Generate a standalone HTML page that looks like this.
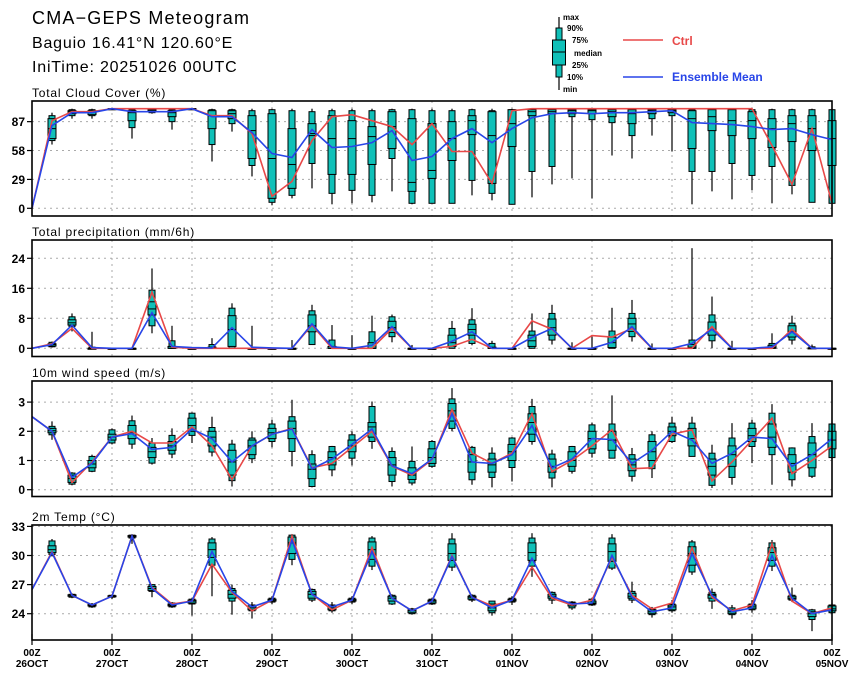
<!DOCTYPE html>
<html><head><meta charset="utf-8"><style>
body{margin:0;background:#fff;}
svg{display:block;font-family:"Liberation Sans",Arial,sans-serif;}
</style></head><body>
<svg id="chart" width="860" height="678" viewBox="0 0 860 678">
<text x="32" y="24" font-size="18" letter-spacing="1.2">CMA−GEPS Meteogram</text>
<text x="32" y="48" font-size="16" letter-spacing="0.8">Baguio 16.41°N 120.60°E</text>
<text x="32" y="72" font-size="16" letter-spacing="0.8">IniTime: 20251026 00UTC</text>
<g font-size="8" font-weight="bold">
<line x1="559" y1="17" x2="559" y2="90" stroke="#000" stroke-width="1.2"/>
<rect x="556" y="28" width="6" height="49" fill="#10c0b8" stroke="#000"/>
<rect x="552.5" y="40" width="13" height="25" fill="#10c0b8" stroke="#000"/>
<line x1="552.5" y1="52" x2="565.5" y2="52" stroke="#000"/>
<text x="563" y="20">max</text><text x="567" y="31">90%</text><text x="572" y="43">75%</text>
<text x="574" y="56">median</text><text x="572" y="68">25%</text><text x="567" y="80">10%</text><text x="563" y="92">min</text>
<line x1="623" y1="40" x2="663" y2="40" stroke="#e84848" stroke-width="1.5"/>
<text x="672" y="45" font-size="12" font-weight="bold" fill="#e84848">Ctrl</text>
<line x1="623" y1="77" x2="663" y2="77" stroke="#2845e8" stroke-width="1.5"/>
<text x="672" y="81" font-size="12" font-weight="bold" fill="#2845e8">Ensemble Mean</text>
</g>
</svg>
<script>
// ---- data ----
const dayLabels=["26OCT","27OCT","28OCT","29OCT","30OCT","31OCT","01NOV","02NOV","03NOV","04NOV","05NOV"];
const cloudMin=[0,64,90,90,100,70,95,79,100,47,77,32,3,10,20,4,5,6,17,4,5,5,13,8,4,11,24,30,10,53,50,73,57,4,17,9,18,5,14,6,5];
const cloudP10=[0,68,93,93,100,81,96,87,100,64,85,43,6,13,45,15,18,13,50,5,5,5,28,15,4,37,42,92,89,86,73,90,93,37,37,45,33,42,23,6,5];
const cloudP25=[0,70,95,94,100,88,97,92,100,80,90,50,10,20,73,34,34,44,60,17,30,48,74,25,62,93,95,95,95,92,85,95,96,60,78,73,70,61,67,58,43];
const cloudMed=[0,80,97,97,100,96,98,96,100,93,95,78,50,44,75,70,70,72,82,26,38,70,88,73,85,97,97,98,98,97,95,98,98,90,92,88,88,80,85,80,70];
const cloudP75=[0,90,98,98,100,98,99,98,100,98,98,93,95,80,85,93,88,82,97,90,85,87,93,97,99,99,99,99,99,99,99,99,99,98,99,99,97,90,93,93,88];
const cloudP90=[0,93,99,99,100,99,99,99,100,99,99,98,99,98,97,98,98,98,99,99,98,98,99,98,99,99,99,99,99,99,99,99,99,99,99,99,99,99,99,99,99];
const cloudMax=[0,96,100,100,100,100,100,100,100,100,100,100,100,100,100,100,100,100,100,100,100,100,100,100,100,100,100,100,100,100,100,100,100,100,100,100,100,100,100,100,100];
const cloudCtrl=[0,88,97,97,100,100,100,100,100,93,93,75,12,27,68,92,94,88,82,64,85,57,57,25,98,100,100,100,100,100,100,100,100,100,100,100,100,63,24,80,5];
const cloudMean=[0,83,96,96,100,97,97,97,100,92,92,76,55,51,79,61,62,66,78,48,52,70,80,66,80,91,95,96,95,96,96,97,98,86,85,84,82,79,80,74,69];
const cloudTicks=[0,29,58,87];

const precMin=[0,0.2,4.5,0,0,0,4,0,0,0,0,0,0,0,1,0,0,0,1.6,0,0,0,0.8,0,0,0,1,0,0,0,1.8,0,0,0,0,0,0,0,1,0,0];
const precP10=[0,0.4,5.8,0,0,0,6,0,0,0,0,0,0,0,1,0,0,0,3.1,0,0,0,1.3,0,0,0,2.2,0,0,0,3.1,0,0,0,2,0,0,0,2.2,0,0];
const precP25=[0,0.6,6.2,0,0,0,8.9,0,0,0,0.5,0,0,0,4.4,0,0,0,4.2,0,0,0.5,3.5,0,0,0.5,3.5,0,0,0.2,4.5,0,0,0,3.5,0,0,0,3,0,0];
const precMed=[0,1,6.8,0,0,0,10.5,0,0,0,5,0,0,0,6,0,0,0,5.5,0,0,1.5,5,0,0,2,5.5,0,0,1.5,6.5,0,0,0.3,5,0,0,0.2,4.5,0,0];
const precP75=[0,1.2,7.6,0,0,0,12.4,0.5,0,0.3,8.7,0,0,0,8.9,0.5,0,1.5,7.2,0,0,3.5,6.4,0.3,0,3.5,7.8,0,0,3,8,0,0,1,7,0,0,0.8,6,0.1,0];
const precP90=[0,1.6,8.4,0.3,0,0,15.5,2,0,1,10.7,0,0,0,10,2.2,0,4.4,8.4,0,0,5.3,7.6,1.3,0,4.6,9.3,0,0,4.6,9.3,0,0,2.2,8.9,0,0,1.3,6.7,0.4,0];
const precMax=[0,1.8,9.3,4.4,0,0,21.3,6,0,2.7,12,6,0,2.2,11.6,6.2,3.5,8.7,9,0.9,0,7.3,10.7,2,0,9.3,11.6,1.6,3.1,10.8,12.9,1.3,0,26.7,13.8,2,0,4,8.7,1,0];
const precCtrl=[0,1.2,5.3,0,0,0,15,0.3,0,0,0,0,0,0,6.2,0,0,0,5.3,0,0,0.5,2.4,0,0,7.3,5.1,0,3.4,3,5.3,0,0,0,5.8,0,0,0,5.1,0,0];
const precMean=[0,1,6.2,0.2,0,0,9.5,0.5,0.2,0.1,5.5,0.3,0.1,0,6.5,0.4,0,0.8,5.8,0,0,1.9,4.4,0,0,2.9,5.3,0,0,1.6,5.8,0,0,1.3,5.1,0,0,0.4,4.4,0,0];
const precTicks=[0,8,16,24];

const windMin=[2.5,1.71,0.15,0.6,1.55,1.4,0.86,1.08,1.6,1.14,0.11,0.91,1.45,0.8,0.08,0.46,0.83,1.4,0.11,0.15,0.75,2.0,0.17,0.08,0.28,1.54,0.08,0.55,1.1,1.08,0.28,0.4,1.6,1.14,0.06,0.17,0.91,0.17,0.11,0.4,1.05];
const windP10=[2.5,1.88,0.19,0.63,1.6,1.56,0.91,1.22,1.86,1.29,0.31,1.06,1.65,1.31,0.11,0.68,1.08,1.65,0.28,0.23,0.8,2.1,0.34,0.42,0.76,1.65,0.4,0.63,1.25,1.08,0.46,0.72,1.65,1.14,0.15,0.42,1.48,1.2,0.34,0.46,1.1];
const windP25=[2.5,1.95,0.25,0.75,1.7,1.75,1.1,1.35,2.0,1.5,0.5,1.2,1.75,1.75,0.38,0.85,1.3,1.8,0.5,0.35,0.9,2.35,0.6,0.6,1.0,1.9,0.6,0.8,1.4,1.35,0.65,1.0,1.85,1.5,0.5,0.8,1.65,1.45,0.6,0.75,1.4];
const windMed=[2.5,2.02,0.38,0.88,1.8,1.95,1.3,1.5,2.2,1.8,0.95,1.5,1.95,2.1,0.7,1.1,1.5,2.15,0.85,0.5,1.1,2.7,0.95,0.85,1.3,2.3,0.8,1.0,1.75,1.7,0.85,1.3,2.0,1.75,0.8,1.2,1.85,1.8,0.9,1.2,1.7];
const windP75=[2.5,2.1,0.5,1.0,1.9,2.2,1.45,1.65,2.45,2.0,1.35,1.7,2.1,2.35,0.88,1.3,1.7,2.3,1.1,0.75,1.4,2.95,1.2,1.05,1.55,2.6,1.05,1.3,2.0,2.0,1.05,1.65,2.15,2.1,1.05,1.5,2.1,2.25,1.2,1.6,2.0];
const windP90=[2.5,2.17,0.57,1.14,2.05,2.36,1.6,1.86,2.62,2.13,1.56,1.77,2.25,2.5,1.2,1.48,1.88,2.85,1.31,0.97,1.65,3.11,1.45,1.25,1.77,2.85,1.22,1.48,2.22,2.25,1.2,1.88,2.28,2.28,1.25,1.77,2.28,2.62,1.43,1.82,2.25];
const windMax=[2.5,2.34,0.6,1.2,2.1,2.54,1.77,2.1,2.65,2.5,1.71,2.0,2.4,3.08,1.35,1.5,2.0,3.02,1.45,1.48,1.7,3.48,1.5,1.45,1.8,3.11,1.37,1.5,2.3,3.23,1.43,2.0,2.5,2.5,1.54,2.28,2.4,2.93,1.45,2.28,2.3];
const windCtrl=[2.5,2.0,0.25,0.95,1.8,2.0,1.6,1.6,2.15,1.5,0.35,1.5,1.9,2.1,0.75,0.9,1.45,2.0,0.8,0.5,1.03,2.75,1.25,0.9,1.25,2.6,0.62,1.0,1.5,2.05,0.72,0.75,1.9,2.05,0.3,0.95,1.7,2.45,0.55,1.0,1.5];
const windMean=[2.5,2.0,0.42,0.9,1.8,1.92,1.38,1.45,2.08,1.75,0.95,1.5,1.9,2.08,0.72,1.05,1.55,2.08,0.82,0.55,1.05,2.6,0.95,0.9,1.2,2.2,0.75,1.05,1.75,1.72,0.9,1.35,2.0,1.7,0.9,1.25,1.8,1.75,0.8,1.2,1.75];
const windTicks=[0,1,2,3];

const tempMin=[26.5,29.9,25.6,24.6,25.5,31.2,25.7,24.6,23.8,25.8,23.9,23.5,25.0,29.0,25.2,24.1,25.0,28.5,24.9,23.9,24.9,28.4,25.2,23.8,24.9,27.8,25.0,24.4,24.8,28.5,25.1,23.6,24.1,28.0,24.5,23.5,24.1,28.4,25.2,22.2,24.0];
const tempP10=[26.5,30.1,25.7,24.7,25.7,31.8,26.3,24.7,25.0,29.0,25.3,24.3,25.2,29.6,25.4,24.3,25.2,28.9,25.0,24.0,25.0,28.8,25.4,24.1,25.2,28.9,25.4,24.6,24.9,28.7,25.4,23.9,24.3,28.3,25.3,23.9,24.4,28.9,25.4,23.4,24.1];
const tempP25=[26.5,30.3,25.8,24.8,25.75,31.9,26.4,24.8,25.1,29.8,25.6,24.4,25.3,30.2,25.6,24.4,25.3,29.6,25.3,24.1,25.1,29.5,25.5,24.3,25.3,29.5,25.6,24.8,25.0,29.4,25.6,24.0,24.4,29.0,25.6,24.0,24.5,29.5,25.5,23.7,24.3];
const tempMed=[26.5,30.6,25.9,24.9,25.8,32.0,26.6,24.9,25.3,30.6,26.0,24.6,25.4,31.3,26.0,24.6,25.4,30.6,25.6,24.3,25.3,30.2,25.7,24.6,25.4,30.3,25.8,25.0,25.1,30.4,25.8,24.2,24.7,30.2,25.9,24.2,24.7,30.3,25.6,24.0,24.5];
const tempP75=[26.5,31.0,25.95,24.95,25.85,32.05,26.8,25.0,25.4,31.3,26.4,24.8,25.5,31.9,26.3,24.8,25.5,31.4,25.8,24.4,25.4,31.2,25.8,25.0,25.5,31.3,26.0,25.1,25.3,31.2,26.1,24.4,24.9,30.9,26.0,24.4,24.9,30.8,25.8,24.2,24.8];
const tempP90=[26.5,31.5,26.0,25.0,25.9,32.1,27.0,25.1,25.5,31.7,26.6,24.9,25.6,32.1,26.5,24.9,25.6,31.8,25.9,24.5,25.5,31.7,25.9,25.3,25.6,31.8,26.2,25.2,25.5,31.8,26.3,24.5,25.0,31.4,26.2,24.6,25.0,31.3,25.9,24.4,24.9];
const tempMax=[26.5,31.7,26.1,25.1,26.0,32.2,27.0,25.2,25.6,31.9,27.0,25.2,25.8,32.2,26.6,25.2,25.8,32.0,26.0,24.6,25.6,32.3,26.0,25.3,25.8,32.3,26.3,25.3,25.6,32.2,27.3,24.7,25.4,31.6,26.6,24.9,25.4,31.6,26.7,24.5,25.1];
const tempCtrl=[26.5,30.4,25.9,24.9,25.8,32.0,26.7,25.0,25.3,29.1,26.2,24.3,25.4,32.0,26.0,24.4,25.4,30.8,25.6,24.3,25.3,30.0,25.7,24.8,25.4,28.8,25.6,24.9,25.4,29.8,25.9,24.5,25.1,30.8,25.7,24.3,24.9,31.2,25.3,24.0,24.6];
const tempMean=[26.5,30.3,25.9,24.9,25.8,32.0,26.6,24.9,25.3,30.4,26.3,24.7,25.4,31.6,26.0,24.7,25.4,30.4,25.6,24.3,25.3,29.9,25.7,24.6,25.4,29.7,25.8,25.0,25.1,30.0,25.7,24.2,24.6,30.2,25.9,24.2,24.6,30.0,25.6,24.0,24.4];
const tempTicks=[24,27,30,33];

// ---- drawing ----
const NS="http://www.w3.org/2000/svg";
const svg=document.getElementById('chart');
const X0=32,X1=832,NSTEP=40;
function xs(i){return X0+(X1-X0)*i/NSTEP;}
function mk(tag,attrs,parent){const e=document.createElementNS(NS,tag);for(const k in attrs)e.setAttribute(k,attrs[k]);(parent||svg).appendChild(e);return e;}
const TEAL="#10c0b8",RED="#e84848",BLUE="#2845e8";

const panels=[
 {name:"cloud",title:"Total Cloud Cover (%)",top:101,bot:216,v0:0,y0:208.3,v1:100,y1:108.7,ticks:cloudTicks,
  s:[cloudMin,cloudP10,cloudP25,cloudMed,cloudP75,cloudP90,cloudMax],ctrl:cloudCtrl,mean:cloudMean},
 {name:"precip",title:"Total precipitation (mm/6h)",top:240,bot:356.5,v0:0,y0:348.3,v1:24,y1:258.3,ticks:precTicks,
  s:[precMin,precP10,precP25,precMed,precP75,precP90,precMax],ctrl:precCtrl,mean:precMean},
 {name:"wind",title:"10m wind speed (m/s)",top:381,bot:496.5,v0:0,y0:489.7,v1:3,y1:402.1,ticks:windTicks,
  s:[windMin,windP10,windP25,windMed,windP75,windP90,windMax],ctrl:windCtrl,mean:windMean},
 {name:"temp",title:"2m Temp (°C)",top:525,bot:640,v0:24,y0:613.7,v1:33,y1:526.4,ticks:tempTicks,
  s:[tempMin,tempP10,tempP25,tempMed,tempP75,tempP90,tempMax],ctrl:tempCtrl,mean:tempMean}
];

panels.forEach(p=>{
  const ys=v=>p.y0+(v-p.v0)*(p.y1-p.y0)/(p.v1-p.v0);
  const g=mk('g',{});
  
  
  const t=mk('text',{x:32,y:p.top-4,'font-size':12,'letter-spacing':0.8},g);t.textContent=p.title;
  
  
  for(let d=1;d<10;d++){
    const l=mk('line',{x1:xs(d*4),x2:xs(d*4),y1:p.top,y2:p.bot,stroke:'#aaa','stroke-width':1,'stroke-dasharray':'2,4'},g);
    
    
  }
  p.ticks.forEach(v=>{
    const y=ys(v);
    const l=mk('line',{x1:X0,x2:X1,y1:y,y2:y,stroke:'#aaa','stroke-width':1,'stroke-dasharray':'2,4'},g);
    
    
    const tk=mk('line',{x1:X0-5,x2:X0,y1:y,y2:y,stroke:'#000','stroke-width':1.2},g);
    
    
    const tl=mk('text',{x:X0-7,y:y+4.5,'font-size':12,'font-weight':'bold','text-anchor':'end'},g);
    tl.textContent=v;
    
    
  });
  for(let i=1;i<=NSTEP;i++){
    const [mn,p10,p25,md,p75,p90,mx]=p.s.map(a=>a[i]);
    const x=xs(i);
    const bg=mk('g',{},g);
    
    
    mk('line',{x1:x,x2:x,y1:ys(mx),y2:ys(mn),stroke:'#000','stroke-width':1.2},bg);
    mk('rect',{x:x-3,y:ys(p90),width:6,height:Math.max(1,ys(p10)-ys(p90)),fill:TEAL,stroke:'#000','stroke-width':1},bg);
    mk('rect',{x:x-4,y:ys(p75),width:8,height:Math.max(1,ys(p25)-ys(p75)),fill:TEAL,stroke:'#000','stroke-width':1},bg);
    mk('line',{x1:x-4,x2:x+4,y1:ys(md),y2:ys(md),stroke:'#000','stroke-width':1},bg);
  }
  const pts=a=>a.map((v,i)=>xs(i).toFixed(1)+','+ys(v).toFixed(1)).join(' ');
  const cl=mk('polyline',{points:pts(p.ctrl),fill:'none',stroke:RED,'stroke-width':1.6},g);
  
  
  const ml=mk('polyline',{points:pts(p.mean),fill:'none',stroke:BLUE,'stroke-width':1.6},g);
  
  
  const fr=mk('rect',{x:X0,y:p.top,width:X1-X0,height:p.bot-p.top,fill:'none',stroke:'#000','stroke-width':1.6},g);
  
  
});

dayLabels.forEach((lab,d)=>{
  const x=xs(d*4);
  const tk=mk('line',{x1:x,x2:x,y1:634,y2:645,stroke:'#000','stroke-width':1.2});
  
  
  const a=mk('text',{x:x,y:656,'font-size':10,'font-weight':'bold','text-anchor':'middle'});
  a.textContent='00Z';
  
  
  const b=mk('text',{x:x,y:667,'font-size':10,'font-weight':'bold','text-anchor':'middle'});
  b.textContent=lab;
  
  
});
</script>
</body></html>
